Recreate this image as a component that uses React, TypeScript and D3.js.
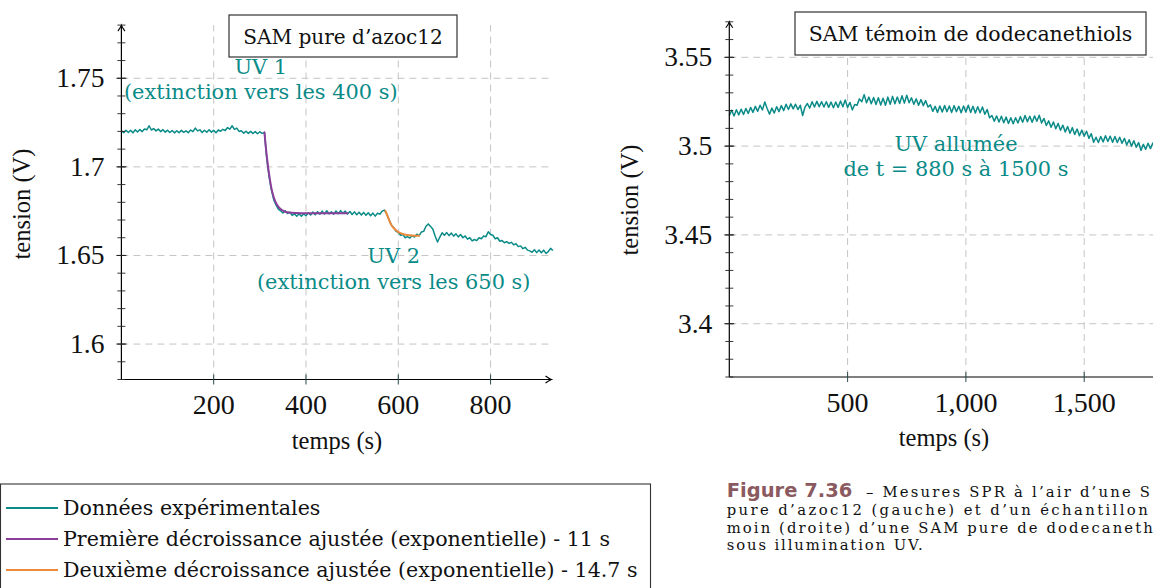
import React from "react";
import * as d3 from "d3";

// ---------- DATA ----------
const LEFT_STEP = 5; // s between samples (left panel)
const leftVoltage = [
  1.7204,1.7193,1.7207,1.7194,1.7206,1.7192,1.7209,1.7197,1.7211,1.7199,1.7214,1.7209,
  1.7232,1.7208,1.7216,1.7203,1.7213,1.7199,1.7210,1.7196,1.7207,1.7194,1.7205,1.7192,
  1.7204,1.7193,1.7206,1.7195,1.7203,1.7193,1.7208,1.7199,1.7219,1.7203,1.7209,1.7194,
  1.7207,1.7195,1.7209,1.7196,1.7206,1.7193,1.7208,1.7201,1.7212,1.7205,1.7222,1.7213,
  1.7232,1.7212,1.7219,1.7200,1.7204,1.7190,1.7201,1.7189,1.7200,1.7188,1.7199,1.7187,
  1.7198,1.7189,1.7193,1.7045,1.6945,1.6870,1.6815,1.6785,1.6762,1.6752,1.6740,1.6752,
  1.6737,1.6744,1.6726,1.6735,1.6721,1.6736,1.6722,1.6734,1.6724,1.6741,1.6728,1.6745,
  1.6730,1.6747,1.6733,1.6750,1.6734,1.6752,1.6735,1.6746,1.6733,1.6751,1.6736,1.6753,
  1.6738,1.6750,1.6734,1.6748,1.6731,1.6746,1.6730,1.6744,1.6728,1.6743,1.6727,1.6741,
  1.6724,1.6739,1.6722,1.6738,1.6733,1.6750,1.6756,1.6732,1.6703,1.6672,1.6658,1.6636,
  1.6631,1.6614,1.6618,1.6600,1.6606,1.6598,1.6612,1.6604,1.6620,1.6612,1.6632,1.6636,
  1.6665,1.6678,1.6664,1.6648,1.6608,1.6576,1.6604,1.6628,1.6614,1.6629,1.6612,1.6626,
  1.6609,1.6622,1.6605,1.6618,1.6600,1.6610,1.6592,1.6600,1.6582,1.6590,1.6584,1.6600,
  1.6594,1.6610,1.6606,1.6634,1.6618,1.6614,1.6594,1.6600,1.6580,1.6584,1.6572,1.6578,
  1.6568,1.6574,1.6560,1.6566,1.6550,1.6554,1.6538,1.6546,1.6530,1.6526,1.6518,1.6532,
  1.6516,1.6531,1.6515,1.6530,1.6512,1.6522,1.6540,1.6528,
];

const fit1Time = [310, 313, 316, 320, 325, 330, 335, 340, 345, 350, 355, 360, 370, 380, 400, 440, 490];
const fit1Voltage = [1.7195, 1.7110, 1.7040, 1.6960, 1.6880, 1.6830, 1.6797, 1.6776, 1.6762, 1.6753, 1.6747, 1.6744, 1.6741, 1.6739, 1.6738, 1.6738, 1.6738];

const fit2Time = [572, 576, 580, 585, 590, 595, 600, 605, 610, 615, 620, 630, 640, 645];
const fit2Voltage = [1.6752, 1.6728, 1.6700, 1.6672, 1.6655, 1.6642, 1.6633, 1.6626, 1.6621, 1.6618, 1.6615, 1.6612, 1.6611, 1.6611];

const RIGHT_STEP = 10; // s between samples (right panel)
const rightVoltage = [
  3.5172,3.5202,3.5170,3.5205,3.5176,3.5208,3.5178,3.5212,3.5184,3.5218,
  3.5190,3.5224,3.5196,3.5230,3.5204,3.5248,3.5212,3.5180,3.5214,3.5186,
  3.5222,3.5194,3.5228,3.5200,3.5236,3.5206,3.5238,3.5210,3.5236,3.5206,
  3.5230,3.5172,3.5220,3.5240,3.5214,3.5250,3.5220,3.5252,3.5222,3.5250,
  3.5220,3.5250,3.5218,3.5248,3.5216,3.5248,3.5218,3.5254,3.5222,3.5260,
  3.5218,3.5246,3.5204,3.5234,3.5230,3.5266,3.5250,3.5290,3.5244,3.5276,
  3.5238,3.5274,3.5234,3.5272,3.5232,3.5270,3.5230,3.5276,3.5236,3.5280,
  3.5238,3.5276,3.5240,3.5284,3.5242,3.5286,3.5244,3.5272,3.5236,3.5266,
  3.5230,3.5262,3.5228,3.5256,3.5220,3.5232,3.5196,3.5224,3.5190,3.5226,
  3.5192,3.5228,3.5194,3.5226,3.5190,3.5228,3.5194,3.5224,3.5188,3.5226,
  3.5192,3.5230,3.5190,3.5224,3.5186,3.5222,3.5188,3.5220,3.5180,3.5206,
  3.5160,3.5172,3.5140,3.5170,3.5136,3.5168,3.5132,3.5164,3.5128,3.5160,
  3.5126,3.5160,3.5130,3.5166,3.5134,3.5172,3.5138,3.5168,3.5134,3.5170,
  3.5140,3.5174,3.5130,3.5156,3.5116,3.5142,3.5106,3.5136,3.5098,3.5128,
  3.5090,3.5118,3.5080,3.5110,3.5072,3.5104,3.5066,3.5096,3.5058,3.5090,
  3.5056,3.5084,3.5044,3.5070,3.5022,3.5050,3.5020,3.5054,3.5024,3.5058,
  3.5026,3.5056,3.5022,3.5054,3.5020,3.5050,3.5016,3.5044,3.5006,3.5036,
  3.5000,3.5030,3.4994,3.5020,3.4976,3.5010,3.4982,3.5016,3.4986,3.5018,
  3.4990,
];

const leftXTicks = [200, 400, 600, 800];
const leftYTicks = [1.6, 1.65, 1.7, 1.75];
const rightXTicks = [500, 1000, 1500];
const rightYTicks = [3.4, 3.45, 3.5, 3.55];

const legendLabels = [
  "Données expérimentales",
  "Première décroissance ajustée (exponentielle) - 11 s",
  "Deuxième décroissance ajustée (exponentielle) - 14.7 s",
];

const captionLines = [
  "– Mesures SPR à l’air d’une S",
  "pure d’azoc12 (gauche) et d’un échantillon",
  "moin (droite) d’une SAM pure de dodecaneth",
  "sous illumination UV.",
];

// ---------- STYLE ----------
const TEAL = "#0a8b88";
const PURPLE = "#8b3f9b";
const ORANGE = "#f08a3a";
const GRID = "#c4c4c4";
const CM = "'Liberation Serif', serif";
const BODY = "'DejaVu Serif', serif";

type Pt = { t: number; v: number };

function arrowHead(x: number, y: number, dir: "right" | "up") {
  if (dir === "right") {
    return `M${x - 6},${y - 3.5} Q${x - 2},${y - 0.6} ${x},${y} Q${x - 2},${y + 0.6} ${x - 6},${y + 3.5}`;
  }
  return `M${x - 3.5},${y + 6} Q${x - 0.6},${y + 2} ${x},${y} Q${x + 0.6},${y + 2} ${x + 3.5},${y + 6}`;
}

type PanelProps = {
  x: d3.ScaleLinear<number, number>;
  y: d3.ScaleLinear<number, number>;
  data: Pt[];
  fits: { pts: Pt[]; color: string }[];
  xTicks: number[];
  yTicks: number[];
  xFmt: (v: number) => string;
  gridRight: number;
  title: string;
  titleBox: { x: number; y: number; w: number; h: number; size: number };
  annotations: { t: number; v: number; lines: string[]; dy: number }[];
  xLabelX: number;
  yLabelX: number;
  yLabelY: number;
};

function Panel(p: PanelProps) {
  const { x, y } = p;
  const [x0] = x.range();
  const xEnd = x.range()[1];
  const [yBottom, yTop] = y.range();
  const [vmin, vmax] = y.domain();
  const minor = d3.range(Math.round(vmin * 100), Math.round(vmax * 100) + 1).map((k) => k / 100);
  const line = d3
    .line<Pt>()
    .x((d) => x(d.t))
    .y((d) => y(d.v));
  const smooth = d3
    .line<Pt>()
    .x((d) => x(d.t))
    .y((d) => y(d.v))
    .curve(d3.curveMonotoneX);

  return (
    <g>
      {p.yTicks.map((v) => (
        <line key={"gy" + v} x1={x0} x2={p.gridRight} y1={y(v)} y2={y(v)} stroke={GRID} strokeWidth={1} strokeDasharray="7,5" />
      ))}
      {p.xTicks.map((v) => (
        <line key={"gx" + v} x1={x(v)} x2={x(v)} y1={yBottom} y2={yTop} stroke={GRID} strokeWidth={1} strokeDasharray="7,5" />
      ))}
      <path d={line(p.data) || ""} fill="none" stroke={TEAL} strokeWidth={1.5} strokeLinejoin="round" />
      {p.fits.map((f, i) => (
        <path key={"f" + i} d={smooth(f.pts) || ""} fill="none" stroke={f.color} strokeWidth={2} strokeLinecap="round" />
      ))}
      <line x1={x0} x2={xEnd} y1={yBottom} y2={yBottom} stroke="#000" strokeWidth={1.2} />
      <path d={arrowHead(xEnd, yBottom, "right")} fill="none" stroke="#000" strokeWidth={1.1} />
      <line x1={x0} x2={x0} y1={yBottom} y2={yTop} stroke="#000" strokeWidth={1.2} />
      <path d={arrowHead(x0, yTop, "up")} fill="none" stroke="#000" strokeWidth={1.1} />
      {minor.map((v) => (
        <line key={"m" + v} x1={x0 - 4} x2={x0 + 4} y1={y(v)} y2={y(v)} stroke="#222" strokeWidth={0.9} />
      ))}
      {p.yTicks.map((v) => (
        <line key={"my" + v} x1={x0 - 5} x2={x0 + 5} y1={y(v)} y2={y(v)} stroke="#222" strokeWidth={1} />
      ))}
      {p.xTicks.map((v) => (
        <line key={"mx" + v} x1={x(v)} x2={x(v)} y1={yBottom - 5} y2={yBottom + 5} stroke="#2a4a4a" strokeWidth={1} />
      ))}
      {p.yTicks.map((v) => (
        <text key={"ly" + v} x={x0 - 17} y={y(v) + 9} textAnchor="end" fontFamily={CM} fontSize={27.5} fill="#111">
          {String(v)}
        </text>
      ))}
      {p.xTicks.map((v) => (
        <text key={"lx" + v} x={x(v)} y={yBottom + 34.5} textAnchor="middle" fontFamily={CM} fontSize={28} fill="#111">
          {p.xFmt(v)}
        </text>
      ))}
      <text x={p.xLabelX} y={yBottom + 69} textAnchor="middle" fontFamily={CM} fontSize={24.5} fill="#111">
        temps (s)
      </text>
      <text
        transform={`translate(${p.yLabelX},${p.yLabelY}) rotate(-90)`}
        textAnchor="middle"
        fontFamily={CM}
        fontSize={24.5}
        fill="#111"
      >
        tension (V)
      </text>
      {p.annotations.map((a, i) => (
        <text key={"a" + i} x={x(a.t)} y={y(a.v)} textAnchor="middle" fontFamily={BODY} fontSize={20.9} fill={TEAL}>
          {a.lines.map((l, j) => (
            <tspan key={j} x={x(a.t)} dy={j === 0 ? 0 : a.dy}>
              {l}
            </tspan>
          ))}
        </text>
      ))}
      <rect x={p.titleBox.x} y={p.titleBox.y} width={p.titleBox.w} height={p.titleBox.h} fill="#fff" stroke="#333" strokeWidth={1.2} />
      <text
        x={p.titleBox.x + p.titleBox.w / 2}
        y={p.titleBox.y + p.titleBox.h / 2 + 7.5}
        textAnchor="middle"
        fontFamily={BODY}
        fontSize={p.titleBox.size}
        fill="#111"
      >
        {p.title}
      </text>
    </g>
  );
}

export default function App() {
  const leftData: Pt[] = leftVoltage.map((v, i) => ({ t: i * LEFT_STEP, v }));
  const rightData: Pt[] = rightVoltage.map((v, i) => ({ t: i * RIGHT_STEP, v }));
  const fit1: Pt[] = fit1Time.map((t, i) => ({ t, v: fit1Voltage[i] }));
  const fit2: Pt[] = fit2Time.map((t, i) => ({ t, v: fit2Voltage[i] }));

  const xL = d3.scaleLinear().domain([0, 932]).range([121.4, 551.5]);
  const yL = d3.scaleLinear().domain([1.58, 1.78]).range([379.5, 25.1]);
  const xR = d3.scaleLinear().domain([0, 1850]).range([729.3, 1167]);
  const yR = d3.scaleLinear().domain([3.37, 3.57]).range([377, 21.8]);

  const legendColors = [TEAL, PURPLE, ORANGE];
  const captionX = [866, 726.7, 726.7, 726.7];
  const captionY = [497, 515, 532.5, 550];
  const captionLen = [284, 421, 426, 196];

  return (
    <svg
      width={1153}
      height={588}
      style={{ position: "absolute", left: 0, top: 0, background: "#fff", display: "block" }}
    >
      <rect width={1153} height={588} fill="#fff" />
      <Panel
        x={xL}
        y={yL}
        data={leftData}
        fits={[
          { pts: fit1, color: PURPLE },
          { pts: fit2, color: ORANGE },
        ]}
        xTicks={leftXTicks}
        yTicks={leftYTicks}
        xFmt={(v) => String(v)}
        gridRight={553}
        title="SAM pure d’azoc12"
        titleBox={{ x: 229, y: 15, w: 228, h: 42, size: 20.1 }}
        annotations={[
          { t: 302, v: 1.7525, lines: ["UV 1", "(extinction vers les 400 s)"], dy: 25 },
          { t: 590, v: 1.6458, lines: ["UV 2", "(extinction vers les 650 s)"], dy: 26 },
        ]}
        xLabelX={337}
        yLabelX={30}
        yLabelY={204}
      />
      <Panel
        x={xR}
        y={yR}
        data={rightData}
        fits={[]}
        xTicks={rightXTicks}
        yTicks={rightYTicks}
        xFmt={d3.format(",")}
        gridRight={1160}
        title="SAM témoin de dodecanethiols"
        titleBox={{ x: 795, y: 12, w: 351, h: 43, size: 20.5 }}
        annotations={[{ t: 958, v: 3.4974, lines: ["UV allumée", "de t = 880 s à 1500 s"], dy: 25.5 }]}
        xLabelX={944}
        yLabelX={638}
        yLabelY={200}
      />

      {/* legend */}
      <rect x={0.5} y={484} width={650} height={130} fill="#fff" stroke="#333" strokeWidth={1.1} />
      {legendLabels.map((lab, i) => (
        <g key={lab}>
          <line x1={6} x2={58} y1={508 + i * 31} y2={508 + i * 31} stroke={legendColors[i]} strokeWidth={2} />
          <text x={63} y={515 + i * 31} fontFamily={BODY} fontSize={20.6} fill="#111">
            {lab}
          </text>
        </g>
      ))}

      {/* caption */}
      <text x={726.7} y={497} fontFamily="'DejaVu Sans', sans-serif" fontWeight={700} fontSize={19.5} fill="#8a5a60">
        Figure 7.36
      </text>
      {captionLines.map((l, i) => (
        <text
          key={i}
          x={captionX[i]}
          y={captionY[i]}
          fontFamily={BODY}
          fontSize={14.8}
          fill="#111"
          textLength={captionLen[i]}
          lengthAdjust="spacing"
        >
          {l}
        </text>
      ))}
    </svg>
  );
}
